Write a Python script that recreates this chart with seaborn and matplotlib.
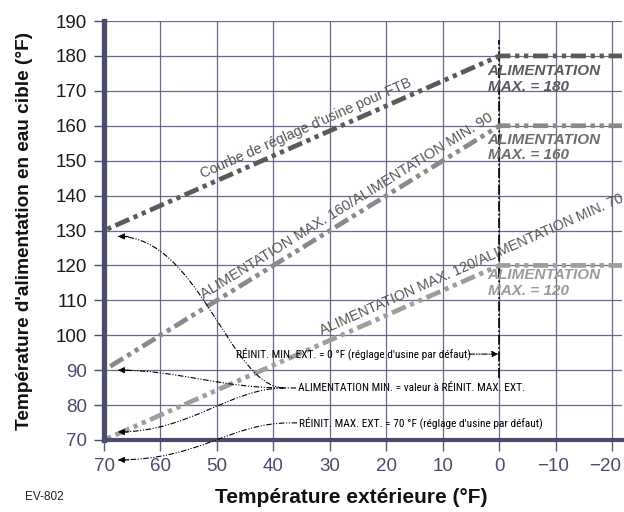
import numpy as np
import pandas as pd
import matplotlib
matplotlib.use("Agg")
import matplotlib.pyplot as plt
from matplotlib import font_manager
from matplotlib.path import Path
from matplotlib.patches import PathPatch
from matplotlib.transforms import ScaledTranslation
import seaborn as sns

# ---------------- data ----------------
outdoor = [70, 0, -22]                     # outdoor temperature (°F)
ftb_curve = [130, 180, 180]                # Courbe de réglage d'usine pour FTB
max160_min90 = [90, 160, 160]
max120_min70 = [70, 120, 120]
series_names = ["FTB", "160/90", "120/70"]
x_ticks = [70, 60, 50, 40, 30, 20, 10, 0, -10, -20]
y_ticks = [70, 80, 90, 100, 110, 120, 130, 140, 150, 160, 170, 180, 190]

sns.set_theme(style="white")
fonts = font_manager.fontManager.ttflist
names = {f.name for f in fonts}
main_font = "Liberation Sans" if "Liberation Sans" in names else "DejaVu Sans"
narrow_font, narrow_stretch = main_font, "normal"
for cand in ["Liberation Sans Narrow", "Roboto Condensed", "Open Sans Condensed",
             "Noto Sans Condensed", "DejaVu Sans Condensed"]:
    if cand in names:
        narrow_font = cand
        break
else:
    for f in fonts:
        if f.name == "DejaVu Sans" and str(f.stretch) in ("condensed", "semi-condensed", "75", "87.5"):
            narrow_font, narrow_stretch = "DejaVu Sans", "condensed"
            break
plt.rcParams["font.family"] = [main_font, "DejaVu Sans"]

df = pd.DataFrame({
    "outdoor": outdoor * 3,
    "supply": ftb_curve + max160_min90 + max120_min70,
    "serie": sum([[n] * len(outdoor) for n in series_names], []),
})

fig = plt.figure(figsize=(6.24, 5.12), dpi=100)
ax = fig.add_axes([104 / 624, 72 / 512, 518 / 624, 419 / 512])

grid_c = "#5a5a80"
spine_c = "#4b4b6b"
palette = {"FTB": "#5a5a5a", "160/90": "#8a8a8a", "120/70": "#9e9e9e"}
dash = (3.2, 1.0, 0.9, 1.0, 0.9, 1.0)

ax.set_xlim(70, -21.7)
ax.set_ylim(70, 190)
ax.set_xticks(x_ticks)
ax.set_yticks(y_ticks)
ax.grid(True, color=grid_c, lw=0.9, alpha=0.9)
ax.set_axisbelow(True)

sns.lineplot(data=df, x="outdoor", y="supply", hue="serie", style="serie",
             palette=palette, dashes={n: dash for n in series_names},
             linewidth=3.4, legend=False, ax=ax, zorder=3)

for s in ["top", "right"]:
    ax.spines[s].set_visible(False)
ax.spines["left"].set_color(spine_c)
ax.spines["left"].set_linewidth(3.8)
ax.spines["bottom"].set_color(spine_c)
ax.spines["bottom"].set_linewidth(3.0)
ax.spines["left"].set_zorder(4)
ax.spines["bottom"].set_zorder(4)

ax.tick_params(axis="y", length=7, width=1.0, color=spine_c, pad=5, labelsize=13.5, left=True)
ax.tick_params(axis="x", length=8, width=1.0, color=grid_c, pad=5, labelsize=13.5, bottom=True)
ax.set_xticklabels([f"{v}".replace("-", "\u2212") for v in x_ticks], color="#4b4b72")
ax.set_yticklabels([str(v) for v in y_ticks])
for lab, v in zip(ax.get_yticklabels(), y_ticks):
    lab.set_color("#4b4b72" if v <= 90 else "#1a1a1a")
shifts = {-10: -3, -20: -7}
for lab, v in zip(ax.get_xticklabels(), x_ticks):
    if v in shifts:
        lab.set_transform(lab.get_transform() +
                          ScaledTranslation(shifts[v] / 100, 0, fig.dpi_scale_trans))

ax.set_ylabel("Température d'alimentation en eau cible (°F)", fontsize=13.7,
              fontweight="bold", color="#111111")
ax.yaxis.set_label_coords(-0.137, 0.5)
ax.set_xlabel("Température extérieure (°F)", fontsize=15, fontweight="bold",
              color="#111111")
ax.xaxis.set_label_coords((351 - 104) / 518, -0.115)
fig.text(25 / 624, 1 - 497 / 512, "EV-802", fontsize=8.5, color="#222222", va="center")

# vertical marker at 0 °F
ax.plot([0, 0], [87.7, 184.6], color="black", lw=1.2,
        linestyle=(0, (6, 1.5, 1, 1.5)), zorder=2)

# MAX labels
lab_kw = dict(fontsize=11, fontweight="bold", fontstyle="italic", ha="left",
              va="top", linespacing=1.15, zorder=5)
ax.text(2.1, 177.6, "ALIMENTATION\nMAX. = 180", color="#5a5a5a", **lab_kw)
ax.text(2.1, 158.0, "ALIMENTATION\nMAX. = 160", color="#6e6e6e", **lab_kw)
ax.text(2.1, 119.2, "ALIMENTATION\nMAX. = 120", color="#9a9a9a", **lab_kw)

# rotated line labels
fig.canvas.draw()
def angle_of(x0, y0, x1, y1):
    p0 = ax.transData.transform((x0, y0))
    p1 = ax.transData.transform((x1, y1))
    return np.degrees(np.arctan2(p1[1] - p0[1], p1[0] - p0[0]))

rot_kw = dict(ha="center", va="center", rotation_mode="anchor", zorder=5)
ax.text(34.2, 155.6 + 3.6, "Courbe de réglage d'usine pour FTB", color="#555555",
        fontsize=10.2, rotation=angle_of(70, 130, 0, 180), **rot_kw)
ax.text(27.0, 133.0 + 3.9, "ALIMENTATION MAX. 160/ALIMENTATION MIN. 90", color="#555555",
        fontsize=10.5, rotation=angle_of(70, 90, 0, 160), **rot_kw)
ax.text(5.0, 116.4 + 3.7, "ALIMENTATION MAX. 120/ALIMENTATION MIN. 70", color="#555555",
        fontsize=10.3, rotation=angle_of(70, 70, 0, 120), **rot_kw)

# annotations
ann_size = 8.2 if narrow_font != main_font else 7.3
ann_kw = dict(fontsize=ann_size, color="black", va="center", ha="left",
              family=[narrow_font, "DejaVu Sans"], stretch=narrow_stretch, zorder=6)
ax.text(46.7, 94.6, "RÉINIT. MIN. EXT. = 0 °F (réglage d'usine par défaut)", **ann_kw)
ax.text(35.7, 84.9, "ALIMENTATION MIN. = valeur à RÉINIT. MAX. EXT.", **ann_kw)
ax.text(35.4, 75.0, "RÉINIT. MAX. EXT. = 70 °F (réglage d'usine par défaut)", **ann_kw)

arrow_ls = (0, (5, 1.5, 1, 1.5, 1, 1.5))

def curve(p0, p1, p2, p3, start=None):
    verts, codes = [], []
    if start is not None:
        verts += [start, p0]
        codes += [Path.MOVETO, Path.LINETO]
    else:
        verts += [p0]
        codes += [Path.MOVETO]
    verts += [p1, p2, p3]
    codes += [Path.CURVE4] * 3
    patch = PathPatch(Path(verts, codes), fill=False, lw=0.8, edgecolor="black",
                      linestyle=arrow_ls, clip_on=False, zorder=6)
    ax.add_patch(patch)
    ax.annotate("", xy=p3, xytext=(p3[0] - 1.8, p3[1]),
                arrowprops=dict(arrowstyle="-|>", color="black", lw=0.8,
                                mutation_scale=9, shrinkA=0, shrinkB=0),
                annotation_clip=False, zorder=7)

curve((38.0, 84.9), (47.7, 84.9), (53.0, 128.3), (67.5, 128.3), start=(36.0, 84.9))
curve((38.0, 84.9), (49.5, 84.9), (56.6, 90.0), (67.5, 90.0))
curve((38.0, 84.9), (47.7, 84.9), (54.8, 72.3), (67.5, 72.3))
curve((37.1, 74.9), (47.7, 74.9), (53.0, 64.3), (67.5, 64.3), start=(35.8, 74.9))

ax.annotate("", xy=(0.2, 94.6), xytext=(5.4, 94.6),
            arrowprops=dict(arrowstyle="-|>", color="black", lw=0.8, mutation_scale=9,
                            linestyle=arrow_ls, shrinkA=0, shrinkB=0), zorder=7)

fig.savefig("out.png", dpi=100)
